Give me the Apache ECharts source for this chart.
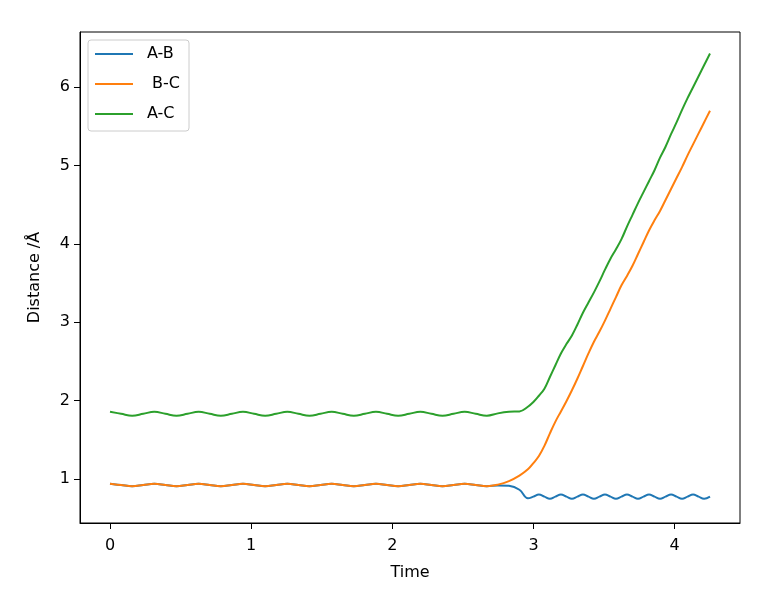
<!DOCTYPE html>
<html>
<head>
<meta charset="utf-8">
<script src="https://cdn.jsdelivr.net/npm/echarts@6/dist/echarts.min.js"></script>
<style>
  html, body { margin: 0; padding: 0; background: #fff; }
  #main { width: 776px; height: 600px; }
</style>
</head>
<body>
<div id="main"></div>
<script>
// time samples (quarter-period spacing before and after the collision)
var time = [
  0, 0.0785, 0.157, 0.2355, 0.314, 0.3925, 0.471, 0.5495, 0.628, 0.7065,
  0.785, 0.8635, 0.942, 1.0205, 1.099, 1.1775, 1.256, 1.3345, 1.413, 1.4915,
  1.57, 1.6485, 1.727, 1.8055, 1.884, 1.9625, 2.041, 2.1195, 2.198, 2.2765,
  2.355, 2.4335, 2.512, 2.5905, 2.669, 2.7475, 2.826, 2.90,
  2.960, 2.999, 3.038, 3.077, 3.116, 3.155, 3.194, 3.233, 3.272, 3.311,
  3.350, 3.389, 3.428, 3.467, 3.506, 3.545, 3.584, 3.623, 3.662, 3.701,
  3.740, 3.779, 3.818, 3.857, 3.896, 3.935, 3.974, 4.013, 4.052, 4.091,
  4.130, 4.169, 4.208, 4.25
];

var abDist = [
  0.935, 0.92, 0.905, 0.92, 0.935, 0.92, 0.905, 0.92, 0.935, 0.92,
  0.905, 0.92, 0.935, 0.92, 0.905, 0.92, 0.935, 0.92, 0.905, 0.92,
  0.935, 0.92, 0.905, 0.92, 0.935, 0.92, 0.905, 0.92, 0.935, 0.92,
  0.905, 0.92, 0.935, 0.92, 0.905, 0.915, 0.91, 0.86,
  0.75, 0.772, 0.80, 0.772, 0.745, 0.772, 0.80, 0.772, 0.745, 0.772,
  0.80, 0.772, 0.745, 0.772, 0.80, 0.772, 0.745, 0.772, 0.80, 0.772,
  0.745, 0.772, 0.80, 0.772, 0.745, 0.772, 0.80, 0.772, 0.745, 0.772,
  0.80, 0.772, 0.745, 0.772
];

var bcDist = [
  0.935, 0.92, 0.905, 0.92, 0.935, 0.92, 0.905, 0.92, 0.935, 0.92,
  0.905, 0.92, 0.935, 0.92, 0.905, 0.92, 0.935, 0.92, 0.905, 0.92,
  0.935, 0.92, 0.905, 0.92, 0.935, 0.92, 0.905, 0.92, 0.935, 0.92,
  0.905, 0.92, 0.935, 0.92, 0.905, 0.925, 0.97, 1.04,
  1.12, 1.20, 1.29, 1.42, 1.58, 1.73, 1.86, 1.99, 2.13, 2.28,
  2.44, 2.60, 2.75, 2.88, 3.02, 3.17, 3.32, 3.47, 3.59, 3.72,
  3.87, 4.02, 4.17, 4.30, 4.42, 4.56, 4.70, 4.84, 4.98, 5.13,
  5.27, 5.41, 5.55, 5.70
];

var acDist = [
  1.855, 1.83, 1.805, 1.83, 1.855, 1.83, 1.805, 1.83, 1.855, 1.83,
  1.805, 1.83, 1.855, 1.83, 1.805, 1.83, 1.855, 1.83, 1.805, 1.83,
  1.855, 1.83, 1.805, 1.83, 1.855, 1.83, 1.805, 1.83, 1.855, 1.83,
  1.805, 1.83, 1.855, 1.83, 1.805, 1.835, 1.855, 1.86,
  1.92, 1.98, 2.06, 2.15, 2.30, 2.45, 2.60, 2.72, 2.83, 2.97,
  3.12, 3.25, 3.38, 3.52, 3.67, 3.81, 3.93, 4.06, 4.22, 4.37,
  4.52, 4.66, 4.80, 4.94, 5.10, 5.24, 5.40, 5.55, 5.71, 5.86,
  6.00, 6.14, 6.28, 6.43
];

var xTicks = [0, 1, 2, 3, 4];
var yTicks = [1, 2, 3, 4, 5, 6];

function pairs(ys) {
  return time.map(function (t, i) { return [t, ys[i]]; });
}

var font = 'DejaVu Sans';
var fontSize = 16;

var option = {
  animation: false,
  backgroundColor: '#fff',
  textStyle: { fontFamily: font },
  grid: {
    left: 80, right: 36, top: 32, bottom: 77,
    show: true, borderColor: '#000', borderWidth: 1
  },
  legend: {
    orient: 'vertical',
    left: 88, top: 40,
    padding: [6, 9, 9, 7],
    itemGap: 14,
    itemWidth: 38, itemHeight: 2,
    icon: 'rect',
    backgroundColor: '#fff',
    borderColor: '#ccc', borderWidth: 1, borderRadius: 3,
    textStyle: { fontFamily: font, fontSize: fontSize, color: '#000', padding: [0, 0, 0, 9] }
  },
  xAxis: {
    type: 'value',
    min: -0.2125, max: 4.4625,
    name: 'Time',
    nameLocation: 'middle',
    nameGap: 42,
    nameTextStyle: { fontFamily: font, fontSize: fontSize, color: '#000' },
    axisLine: { show: true, onZero: false, lineStyle: { color: '#000', width: 1 } },
    axisTick: { show: true, inside: false, length: 6, customValues: xTicks, lineStyle: { color: '#000' } },
    axisLabel: { customValues: xTicks, margin: 15, fontFamily: font, fontSize: fontSize, color: '#000' },
    splitLine: { show: false }
  },
  yAxis: {
    type: 'value',
    min: 0.435, max: 6.705,
    name: 'Distance /Å',
    nameLocation: 'middle',
    nameGap: 37,
    nameTextStyle: { fontFamily: font, fontSize: fontSize, color: '#000' },
    axisLine: { show: true, onZero: false, lineStyle: { color: '#000', width: 1 } },
    axisTick: { show: true, inside: false, length: 6, customValues: yTicks, lineStyle: { color: '#000' } },
    axisLabel: { customValues: yTicks, margin: 10, fontFamily: font, fontSize: fontSize, color: '#000' },
    splitLine: { show: false }
  },
  series: [
    {
      name: 'A-B', type: 'line', data: pairs(abDist),
      showSymbol: false, symbol: 'none', smooth: 0.4,
      lineStyle: { color: '#1f77b4', width: 2 }, itemStyle: { color: '#1f77b4' }
    },
    {
      name: ' B-C', type: 'line', data: pairs(bcDist),
      showSymbol: false, symbol: 'none', smooth: 0.4,
      lineStyle: { color: '#ff7f0e', width: 2 }, itemStyle: { color: '#ff7f0e' }
    },
    {
      name: 'A-C', type: 'line', data: pairs(acDist),
      showSymbol: false, symbol: 'none', smooth: 0.4,
      lineStyle: { color: '#2ca02c', width: 2 }, itemStyle: { color: '#2ca02c' }
    }
  ]
};

var myChart = echarts.init(document.getElementById('main'));
myChart.setOption(option);
</script>
</body>
</html>
